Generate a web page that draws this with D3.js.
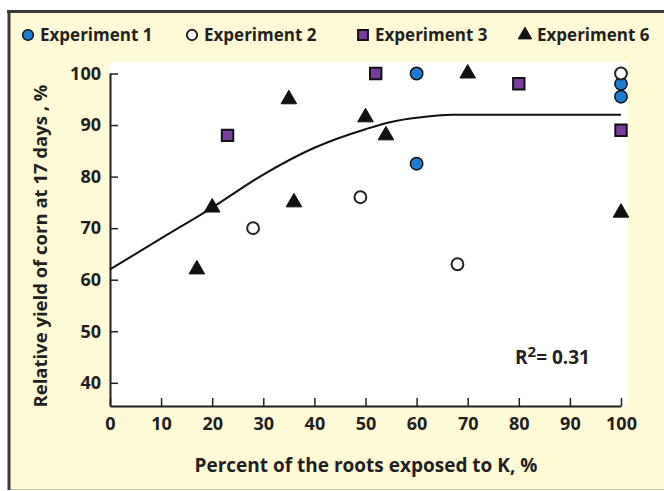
<!DOCTYPE html>
<html>
<head>
<meta charset="utf-8">
<script src="https://cdn.jsdelivr.net/npm/d3@7"></script>
<style>
  body { margin: 0; background: #fff; }
  text { font-family: "Open Sans", sans-serif; font-weight: 700; fill: #231f20; }
</style>
</head>
<body>
<div id="chart"></div>
<script>
// data
const seriesNames = ["Experiment 1", "Experiment 2", "Experiment 3", "Experiment 6"];

const exp1X = [60, 60, 100, 100];
const exp1Y = [100, 82.5, 98, 95.5];

const exp2X = [28, 49, 68, 100];
const exp2Y = [70, 76, 63, 100];

const exp3X = [23, 52, 80, 100];
const exp3Y = [88, 100, 98, 89];

const exp6X = [17, 20, 35, 36, 50, 54, 70, 100];
const exp6Y = [62, 74, 95, 75, 91.5, 88, 100, 73];

// fitted response curve (quadratic-plateau)
const fitX = [0, 10, 20, 30, 40, 50, 55, 60, 67, 100];
const fitY = [62, 68, 74, 80.4, 85.6, 89.2, 90.6, 91.4, 92, 92];

const xTicks = [0, 10, 20, 30, 40, 50, 60, 70, 80, 90, 100];
const yTicks = [40, 50, 60, 70, 80, 90, 100];
const rSquared = "0.31";

const W = 664, H = 491;

const svg = d3.select("#chart").append("svg")
    .attr("width", W)
    .attr("height", H);

// cream frame
svg.append("rect")
    .attr("x", 9).attr("y", 11)
    .attr("width", W - 9).attr("height", 478)
    .attr("fill", "#fefad6");
svg.append("line")
    .attr("x1", 9).attr("x2", W).attr("y1", 489.5).attr("y2", 489.5)
    .attr("stroke", "#cfcbb0").attr("stroke-width", 1);
svg.append("line")
    .attr("x1", 7).attr("x2", W).attr("y1", 11.5).attr("y2", 11.5)
    .attr("stroke", "#3a3a3a").attr("stroke-width", 3);
svg.append("line")
    .attr("x1", 9).attr("x2", 9).attr("y1", 10).attr("y2", 490)
    .attr("stroke", "#3a3a3a").attr("stroke-width", 3);

// plot area
svg.append("rect")
    .attr("x", 110).attr("y", 62)
    .attr("width", 518).attr("height", 344)
    .attr("fill", "#fff");

const x = d3.scaleLinear().domain([0, 100]).range([110, 621]);
const y = d3.scaleLinear().domain([35.5, 100]).range([406, 73.5]);

const xAxis = svg.append("g")
    .attr("transform", "translate(0,406)")
    .call(d3.axisBottom(x).tickValues(xTicks).tickSize(-8).tickSizeOuter(0).tickPadding(11));
const yAxis = svg.append("g")
    .attr("transform", "translate(110,0)")
    .call(d3.axisLeft(y).tickValues(yTicks).tickSize(-8).tickSizeOuter(0).tickPadding(9));

[xAxis, yAxis].forEach(g => {
    g.select(".domain").attr("stroke", "#231f20").attr("stroke-width", 2);
    g.selectAll(".tick line").attr("stroke", "#231f20").attr("stroke-width", 1.5);
    g.selectAll(".tick text")
        .attr("fill", "#231f20")
        .style("font-size", "18px")
        .style("font-family", "'Open Sans', sans-serif")
        .style("font-weight", 700);
});

// fitted curve
const line = d3.line()
    .x((d, i) => x(fitX[i]))
    .y(d => y(d))
    .curve(d3.curveMonotoneX);
svg.append("path")
    .attr("d", line(fitY))
    .attr("fill", "none")
    .attr("stroke", "#111")
    .attr("stroke-width", 2);

// marker styles per series
const styles = [
    {shape: d3.symbolCircle, size: 120, fill: "#1e7dd2", stroke: "#111", sw: 1.5},
    {shape: d3.symbolCircle, size: 110, fill: "#fff", stroke: "#222", sw: 2},
    {shape: d3.symbolSquare, size: 130, fill: "#7a3c9f", stroke: "#111", sw: 2},
    {shape: d3.symbolTriangle, size: 105, fill: "#111", stroke: "#111", sw: 1}
];

const series = [
    exp1X.map((v, i) => [v, exp1Y[i]]),
    exp2X.map((v, i) => [v, exp2Y[i]]),
    exp3X.map((v, i) => [v, exp3Y[i]]),
    exp6X.map((v, i) => [v, exp6Y[i]])
];

series.forEach((pts, s) => {
    const st = styles[s];
    svg.append("g").selectAll("path")
        .data(pts)
        .join("path")
        .attr("d", d3.symbol().type(st.shape).size(st.size))
        .attr("transform", d => `translate(${x(d[0])},${y(d[1])})`)
        .attr("fill", st.fill)
        .attr("stroke", st.stroke)
        .attr("stroke-width", st.sw);
});

// legend
const legendX = [28, 192, 363, 525];
const legend = svg.append("g");
seriesNames.forEach((name, i) => {
    const st = styles[i];
    legend.append("path")
        .attr("d", d3.symbol().type(st.shape).size(st.size * 0.75))
        .attr("transform", `translate(${legendX[i]},35)`)
        .attr("fill", st.fill)
        .attr("stroke", st.stroke)
        .attr("stroke-width", st.sw);
    legend.append("text")
        .attr("x", legendX[i] + 12)
        .attr("y", 41)
        .style("font-size", "17px")
        .text(name);
});

// R squared
const r2 = svg.append("text")
    .attr("x", 515)
    .attr("y", 364)
    .style("font-size", "19px");
r2.append("tspan").text("R");
r2.append("tspan").attr("dy", -7).style("font-size", "15px").text("2");
r2.append("tspan").attr("dy", 7).text("= " + rSquared);

// axis titles
svg.append("text")
    .attr("x", 366)
    .attr("y", 472)
    .attr("text-anchor", "middle")
    .style("font-size", "19px")
    .text("Percent of the roots exposed to K, %");

svg.append("text")
    .attr("transform", "translate(47,246)rotate(-90)")
    .attr("text-anchor", "middle")
    .style("font-size", "18.5px")
    .text("Relative yield of corn at 17 days , %");
</script>
</body>
</html>
